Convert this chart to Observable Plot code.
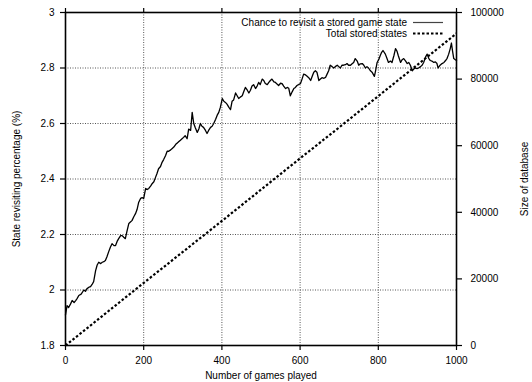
<!DOCTYPE html>
<html>
<head>
<meta charset="utf-8">
<script src="https://cdn.jsdelivr.net/npm/d3@7"></script>
<script src="https://cdn.jsdelivr.net/npm/@observablehq/plot@0.6"></script>
<style>
  html, body { margin: 0; padding: 0; background: #fff; }
  svg { font-family: "Liberation Sans", Arial, Helvetica, sans-serif; }
</style>
</head>
<body>
<div id="chart"></div>
<script>
// ---- data ----
const games = [0,4,8,13,17,22,26,30,34,40,47,51,55,60,64,68,72,77,81,85,90,94,98,102,106,111,115,119,124,128,132,136,141,145,149,153,157,162,166,170,175,179,183,187,192,196,200,205,209,213,218,222,226,230,234,238,243,247,251,256,260,264,269,273,277,282,286,290,294,298,302,306,311,315,320,324,328,332,337,341,345,349,353,358,362,366,371,375,379,384,388,392,396,401,405,409,413,418,422,426,430,435,439,443,447,452,456,460,465,469,473,477,481,486,490,494,498,503,507,511,516,520,524,528,533,537,541,545,550,554,558,563,567,571,575,580,584,588,592,596,601,605,609,614,618,622,627,631,635,639,643,648,652,656,661,665,669,673,677,682,686,690,695,699,703,707,711,716,720,724,729,733,737,741,746,750,754,759,763,767,771,775,780,784,790,793,797,801,805,808,812,818,822,826,831,835,840,844,848,851,857,861,865,870,874,878,882,887,891,895,899,903,908,912,916,921,925,929,933,937,942,946,950,953,958,963,968,972,976,980,984,987,990,993,997,1000];
const revisit = [1.91,1.944,1.937,1.95,1.962,1.955,1.962,1.97,1.98,1.985,2.0,1.995,2.005,2.01,2.012,2.02,2.03,2.07,2.09,2.10,2.095,2.10,2.102,2.106,2.12,2.14,2.155,2.167,2.16,2.16,2.175,2.185,2.196,2.196,2.19,2.185,2.21,2.24,2.245,2.25,2.265,2.275,2.29,2.315,2.33,2.333,2.33,2.366,2.362,2.366,2.375,2.384,2.39,2.405,2.42,2.437,2.445,2.46,2.47,2.485,2.50,2.50,2.505,2.51,2.515,2.525,2.53,2.535,2.54,2.545,2.55,2.556,2.545,2.58,2.575,2.64,2.60,2.585,2.568,2.58,2.60,2.59,2.586,2.575,2.564,2.575,2.586,2.59,2.60,2.615,2.63,2.64,2.658,2.69,2.68,2.676,2.67,2.658,2.65,2.68,2.685,2.71,2.70,2.69,2.695,2.70,2.715,2.73,2.72,2.71,2.72,2.735,2.74,2.726,2.735,2.748,2.74,2.76,2.755,2.744,2.74,2.748,2.755,2.76,2.75,2.748,2.742,2.737,2.745,2.744,2.735,2.726,2.73,2.727,2.70,2.715,2.726,2.73,2.737,2.74,2.744,2.76,2.778,2.775,2.77,2.765,2.755,2.77,2.785,2.79,2.785,2.755,2.76,2.765,2.763,2.766,2.778,2.79,2.81,2.805,2.80,2.805,2.81,2.805,2.80,2.81,2.81,2.812,2.816,2.81,2.81,2.815,2.82,2.834,2.825,2.81,2.815,2.816,2.81,2.80,2.805,2.80,2.79,2.785,2.77,2.79,2.82,2.83,2.845,2.855,2.863,2.85,2.835,2.82,2.825,2.82,2.845,2.87,2.86,2.845,2.82,2.83,2.834,2.825,2.816,2.82,2.81,2.79,2.797,2.80,2.798,2.80,2.805,2.81,2.82,2.84,2.85,2.835,2.827,2.825,2.82,2.822,2.816,2.80,2.81,2.816,2.82,2.827,2.835,2.85,2.87,2.89,2.86,2.834,2.83,2.827];

const storedGames = [0,100,200,300,400,500,600,700,800,900,1000];
const storedStates = [0,9400,18800,28100,37400,46800,56200,65500,74900,84300,93700];

const xTicks = [0,200,400,600,800,1000];
const yTicks = [1.8,2,2.2,2.4,2.6,2.8,3];
const y2Ticks = [0,20000,40000,60000,80000,100000];
const xGrid = [200,400,600,800];
const yGrid = [2,2.2,2.4,2.6,2.8];

const labels = {
  x: "Number of games played",
  y: "State revisiting percentage (%)",
  y2: "Size of database",
  s1: "Chance to revisit a stored game state",
  s2: "Total stored states"
};

// ---- build ----
const y2toy = d3.scaleLinear().domain([0,100000]).range([1.8,3]);
const revisitData = games.map((g,i) => ({g, v: revisit[i]}));
const storedData = storedGames.map((g,i) => ({g, v: y2toy(storedStates[i])}));

const W = 532, H = 382;
const mL = 65, mR = 76, mT = 12, mB = 37;
const fs = 10;
const DASH = "2.5,2";

const plot = Plot.plot({
  width: W, height: H,
  marginLeft: mL, marginRight: mR, marginTop: mT, marginBottom: mB,
  style: {fontFamily: '"Liberation Sans", Arial, Helvetica, sans-serif', fontSize: fs + "px", color: "#000", background: "#fff"},
  x: {domain: [0,1000]},
  y: {domain: [1.8,3]},
  marks: [
    Plot.gridX(xGrid, {stroke: "#555", strokeOpacity: 1, strokeDasharray: "1,1.5", strokeWidth: 1}),
    Plot.gridY(yGrid, {stroke: "#555", strokeOpacity: 1, strokeDasharray: "1,1.5", strokeWidth: 1}),
    Plot.axisX(xTicks, {anchor: "bottom", tickSize: 5, tickPadding: 6, fontSize: fs, tickFormat: d => String(d), label: labels.x, labelAnchor: "center", labelArrow: "none", labelOffset: 33, strokeWidth: 1.2}),
    Plot.axisX(xTicks, {anchor: "top", tickSize: 5, tickFormat: () => "", label: null, strokeWidth: 1.2}),
    Plot.axisY(yTicks, {anchor: "left", tickSize: 5, tickPadding: 6, fontSize: fs, tickFormat: d => String(d), label: labels.y, labelAnchor: "center", labelArrow: "none", labelOffset: 53, strokeWidth: 1.2}),
    Plot.axisY(y2Ticks.map(y2toy), {anchor: "right", tickSize: 5, tickPadding: 9, fontSize: fs, tickFormat: d => String(Math.round(y2toy.invert(d))), label: labels.y2, labelAnchor: "center", labelArrow: "none", labelOffset: 71, strokeWidth: 1.2}),
    Plot.line(storedData, {x: "g", y: "v", stroke: "#000", strokeWidth: 2.2, strokeDasharray: DASH, strokeLinecap: "butt"}),
    Plot.line(revisitData, {x: "g", y: "v", stroke: "#000", strokeWidth: 1.3, strokeLinejoin: "round"}),
    Plot.frame({stroke: "#000", strokeWidth: 1.6})
  ]
});

// legend (inside top-right of the frame)
const svg = d3.select(plot);
const rightEdge = W - mR;
const lg = svg.append("g").attr("font-size", fs).attr("font-family", '"Liberation Sans", Arial, Helvetica, sans-serif');
const rows = [{t: labels.s1, dash: null, w: 1.2, stroke: "#444"}, {t: labels.s2, dash: DASH, w: 2.2, stroke: "#000"}];
rows.forEach((r, i) => {
  const cy = mT + 10.5 + i * 11;
  lg.append("text").attr("x", rightEdge - 49).attr("y", cy).attr("dy", "0.35em").attr("text-anchor", "end").attr("fill", "#000").text(r.t);
  lg.append("line").attr("x1", rightEdge - 43).attr("x2", rightEdge - 13).attr("y1", cy).attr("y2", cy)
    .attr("stroke", r.stroke).attr("stroke-width", r.w).attr("stroke-dasharray", r.dash).attr("stroke-linecap", "butt");
});

document.getElementById("chart").appendChild(plot);
</script>
</body>
</html>
